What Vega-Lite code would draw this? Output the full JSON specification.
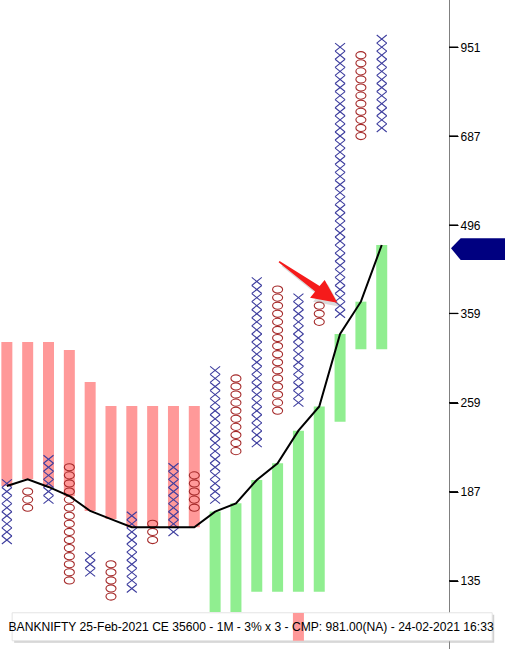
{
  "$schema": "https://vega.github.io/schema/vega-lite/v6.json",
  "width": 449,
  "height": 649,
  "autosize": {"type": "none"},
  "padding": {"left": 0, "top": 0, "right": 56, "bottom": 0},
  "background": "white",
  "config": {"view": {"stroke": null}, "font": "Liberation Sans"},
  "resolve": {"axis": {"x": "independent", "y": "independent"}},
  "datasets": {
    "bars": [
      {"c": 0, "hi": 323.4, "lo": 191.0, "side": "down"},
      {"c": 1, "hi": 323.4, "lo": 195.7, "side": "down"},
      {"c": 2, "hi": 323.4, "lo": 190.3, "side": "down"},
      {"c": 3, "hi": 314.1, "lo": 184.1, "side": "down"},
      {"c": 4, "hi": 279.4, "lo": 174.3, "side": "down"},
      {"c": 5, "hi": 255.9, "lo": 169.2, "side": "down"},
      {"c": 6, "hi": 255.9, "lo": 164.2, "side": "down"},
      {"c": 7, "hi": 255.9, "lo": 164.2, "side": "down"},
      {"c": 8, "hi": 255.9, "lo": 164.2, "side": "down"},
      {"c": 9, "hi": 255.9, "lo": 164.2, "side": "down"},
      {"c": 10, "hi": 173.9, "lo": 120.4, "side": "up"},
      {"c": 11, "hi": 179.2, "lo": 120.4, "side": "up"},
      {"c": 12, "hi": 195.2, "lo": 129.7, "side": "up"},
      {"c": 13, "hi": 207.5, "lo": 129.7, "side": "up"},
      {"c": 14, "hi": 233.8, "lo": 129.7, "side": "up"},
      {"c": 15, "hi": 255.4, "lo": 129.7, "side": "up"},
      {"c": 16, "hi": 333.0, "lo": 241.6, "side": "up"},
      {"c": 17, "hi": 374.8, "lo": 314.9, "side": "up"},
      {"c": 18, "hi": 461.1, "lo": 314.9, "side": "up"}
    ],
    "line": [
      {"c": 0, "v": 191.0}, {"c": 1, "v": 195.7}, {"c": 2, "v": 190.3}, {"c": 3, "v": 184.1},
      {"c": 4, "v": 174.3}, {"c": 5, "v": 169.2}, {"c": 6, "v": 164.2}, {"c": 7, "v": 164.2},
      {"c": 8, "v": 164.2}, {"c": 9, "v": 164.2}, {"c": 10, "v": 173.9}, {"c": 11, "v": 179.2},
      {"c": 12, "v": 195.2}, {"c": 13, "v": 207.5}, {"c": 14, "v": 233.8}, {"c": 15, "v": 255.4},
      {"c": 16, "v": 333.0}, {"c": 17, "v": 374.8}, {"c": 18, "v": 461.1}
    ],
    "ticks": [{"v": 135}, {"v": 187}, {"v": 259}, {"v": 359}, {"v": 496}, {"v": 687}, {"v": 951}],
    "pf": [
      {"c":0,"t":"X","p":156.72},{"c":0,"t":"X","p":161.42},{"c":0,"t":"X","p":166.27},{"c":0,"t":"X","p":171.25},{"c":0,"t":"X","p":176.39},{"c":0,"t":"X","p":181.68},{"c":0,"t":"X","p":187.13},{"c":0,"t":"X","p":192.75},
      {"c":1,"t":"O","p":176.39},{"c":1,"t":"O","p":181.68},{"c":1,"t":"O","p":187.13},
      {"c":2,"t":"X","p":181.68},{"c":2,"t":"X","p":187.13},{"c":2,"t":"X","p":192.75},{"c":2,"t":"X","p":198.53},{"c":2,"t":"X","p":204.49},{"c":2,"t":"X","p":210.62},
      {"c":3,"t":"O","p":135.19},{"c":3,"t":"O","p":139.25},{"c":3,"t":"O","p":143.42},{"c":3,"t":"O","p":147.72},{"c":3,"t":"O","p":152.16},{"c":3,"t":"O","p":156.72},{"c":3,"t":"O","p":161.42},{"c":3,"t":"O","p":166.27},{"c":3,"t":"O","p":171.25},{"c":3,"t":"O","p":176.39},{"c":3,"t":"O","p":181.68},{"c":3,"t":"O","p":187.13},{"c":3,"t":"O","p":192.75},{"c":3,"t":"O","p":198.53},{"c":3,"t":"O","p":204.49},
      {"c":4,"t":"X","p":139.25},{"c":4,"t":"X","p":143.42},{"c":4,"t":"X","p":147.72},
      {"c":5,"t":"O","p":127.43},{"c":5,"t":"O","p":131.25},{"c":5,"t":"O","p":135.19},{"c":5,"t":"O","p":139.25},{"c":5,"t":"O","p":143.42},
      {"c":6,"t":"X","p":131.25},{"c":6,"t":"X","p":135.19},{"c":6,"t":"X","p":139.25},{"c":6,"t":"X","p":143.42},{"c":6,"t":"X","p":147.72},{"c":6,"t":"X","p":152.16},{"c":6,"t":"X","p":156.72},{"c":6,"t":"X","p":161.42},{"c":6,"t":"X","p":166.27},{"c":6,"t":"X","p":171.25},
      {"c":7,"t":"O","p":156.72},{"c":7,"t":"O","p":161.42},{"c":7,"t":"O","p":166.27},
      {"c":8,"t":"X","p":161.42},{"c":8,"t":"X","p":166.27},{"c":8,"t":"X","p":171.25},{"c":8,"t":"X","p":176.39},{"c":8,"t":"X","p":181.68},{"c":8,"t":"X","p":187.13},{"c":8,"t":"X","p":192.75},{"c":8,"t":"X","p":198.53},{"c":8,"t":"X","p":204.49},
      {"c":9,"t":"O","p":176.39},{"c":9,"t":"O","p":181.68},{"c":9,"t":"O","p":187.13},{"c":9,"t":"O","p":192.75},{"c":9,"t":"O","p":198.53},
      {"c":10,"t":"X","p":181.68},{"c":10,"t":"X","p":187.13},{"c":10,"t":"X","p":192.75},{"c":10,"t":"X","p":198.53},{"c":10,"t":"X","p":204.49},{"c":10,"t":"X","p":210.62},{"c":10,"t":"X","p":216.94},{"c":10,"t":"X","p":223.45},{"c":10,"t":"X","p":230.15},{"c":10,"t":"X","p":237.06},{"c":10,"t":"X","p":244.17},{"c":10,"t":"X","p":251.49},{"c":10,"t":"X","p":259.04},{"c":10,"t":"X","p":266.81},{"c":10,"t":"X","p":274.81},{"c":10,"t":"X","p":283.06},{"c":10,"t":"X","p":291.55},
      {"c":11,"t":"O","p":216.94},{"c":11,"t":"O","p":223.45},{"c":11,"t":"O","p":230.15},{"c":11,"t":"O","p":237.06},{"c":11,"t":"O","p":244.17},{"c":11,"t":"O","p":251.49},{"c":11,"t":"O","p":259.04},{"c":11,"t":"O","p":266.81},{"c":11,"t":"O","p":274.81},{"c":11,"t":"O","p":283.06},
      {"c":12,"t":"X","p":223.45},{"c":12,"t":"X","p":230.15},{"c":12,"t":"X","p":237.06},{"c":12,"t":"X","p":244.17},{"c":12,"t":"X","p":251.49},{"c":12,"t":"X","p":259.04},{"c":12,"t":"X","p":266.81},{"c":12,"t":"X","p":274.81},{"c":12,"t":"X","p":283.06},{"c":12,"t":"X","p":291.55},{"c":12,"t":"X","p":300.29},{"c":12,"t":"X","p":309.30},{"c":12,"t":"X","p":318.58},{"c":12,"t":"X","p":328.14},{"c":12,"t":"X","p":337.98},{"c":12,"t":"X","p":348.12},{"c":12,"t":"X","p":358.57},{"c":12,"t":"X","p":369.33},{"c":12,"t":"X","p":380.41},{"c":12,"t":"X","p":391.82},{"c":12,"t":"X","p":403.57},
      {"c":13,"t":"O","p":251.49},{"c":13,"t":"O","p":259.04},{"c":13,"t":"O","p":266.81},{"c":13,"t":"O","p":274.81},{"c":13,"t":"O","p":283.06},{"c":13,"t":"O","p":291.55},{"c":13,"t":"O","p":300.29},{"c":13,"t":"O","p":309.30},{"c":13,"t":"O","p":318.58},{"c":13,"t":"O","p":328.14},{"c":13,"t":"O","p":337.98},{"c":13,"t":"O","p":348.12},{"c":13,"t":"O","p":358.57},{"c":13,"t":"O","p":369.33},{"c":13,"t":"O","p":380.41},{"c":13,"t":"O","p":391.82},
      {"c":14,"t":"X","p":259.04},{"c":14,"t":"X","p":266.81},{"c":14,"t":"X","p":274.81},{"c":14,"t":"X","p":283.06},{"c":14,"t":"X","p":291.55},{"c":14,"t":"X","p":300.29},{"c":14,"t":"X","p":309.30},{"c":14,"t":"X","p":318.58},{"c":14,"t":"X","p":328.14},{"c":14,"t":"X","p":337.98},{"c":14,"t":"X","p":348.12},{"c":14,"t":"X","p":358.57},{"c":14,"t":"X","p":369.33},{"c":14,"t":"X","p":380.41},
      {"c":15,"t":"O","p":348.12},{"c":15,"t":"O","p":358.57},{"c":15,"t":"O","p":369.33},
      {"c":16,"t":"X","p":358.57},{"c":16,"t":"X","p":369.33},{"c":16,"t":"X","p":380.41},{"c":16,"t":"X","p":391.82},{"c":16,"t":"X","p":403.57},{"c":16,"t":"X","p":415.68},{"c":16,"t":"X","p":428.15},{"c":16,"t":"X","p":440.99},{"c":16,"t":"X","p":454.22},{"c":16,"t":"X","p":467.85},{"c":16,"t":"X","p":481.89},{"c":16,"t":"X","p":496.34},{"c":16,"t":"X","p":511.23},{"c":16,"t":"X","p":526.57},{"c":16,"t":"X","p":542.37},{"c":16,"t":"X","p":558.64},{"c":16,"t":"X","p":575.40},{"c":16,"t":"X","p":592.66},{"c":16,"t":"X","p":610.44},{"c":16,"t":"X","p":628.75},{"c":16,"t":"X","p":647.61},{"c":16,"t":"X","p":667.04},{"c":16,"t":"X","p":687.05},{"c":16,"t":"X","p":707.66},{"c":16,"t":"X","p":728.89},{"c":16,"t":"X","p":750.76},{"c":16,"t":"X","p":773.28},{"c":16,"t":"X","p":796.48},{"c":16,"t":"X","p":820.38},{"c":16,"t":"X","p":844.99},{"c":16,"t":"X","p":870.34},{"c":16,"t":"X","p":896.45},{"c":16,"t":"X","p":923.34},{"c":16,"t":"X","p":951.04},
      {"c":17,"t":"O","p":687.05},{"c":17,"t":"O","p":707.66},{"c":17,"t":"O","p":728.89},{"c":17,"t":"O","p":750.76},{"c":17,"t":"O","p":773.28},{"c":17,"t":"O","p":796.48},{"c":17,"t":"O","p":820.38},{"c":17,"t":"O","p":844.99},{"c":17,"t":"O","p":870.34},{"c":17,"t":"O","p":896.45},{"c":17,"t":"O","p":923.34},
      {"c":18,"t":"X","p":707.66},{"c":18,"t":"X","p":728.89},{"c":18,"t":"X","p":750.76},{"c":18,"t":"X","p":773.28},{"c":18,"t":"X","p":796.48},{"c":18,"t":"X","p":820.38},{"c":18,"t":"X","p":844.99},{"c":18,"t":"X","p":870.34},{"c":18,"t":"X","p":896.45},{"c":18,"t":"X","p":923.34},{"c":18,"t":"X","p":951.04},{"c":18,"t":"X","p":979.57}
    ]
  },
  "layer": [
    {
      "data": {"name": "bars"},
      "mark": {"type": "bar", "size": 11, "clip": true},
      "encoding": {
        "x": {"field": "c", "type": "quantitative", "scale": {"domain": [-0.089, 20.99], "nice": false, "zero": false}, "axis": null},
        "y": {"field": "hi", "type": "quantitative", "scale": {"type": "log", "domain": [105.19, 1130.0], "nice": false},
          "axis": {"orient": "right", "values": [135, 187, 259, 359, 496, 687, 951], "format": "d", "title": null, "grid": false,
            "domain": true, "domainColor": "#000000", "domainOpacity": 1, "domainDash": [1, 1], "domainWidth": 1,
            "ticks": true, "tickColor": "#000000", "tickOpacity": 1, "tickSize": 9, "tickWidth": 1,
            "labelFont": "Liberation Sans", "labelFontSize": 12, "labelColor": "#000000", "labelPadding": 2, "labelOverlap": false}},
        "y2": {"field": "lo"},
        "fill": {"field": "side", "type": "nominal", "scale": {"domain": ["down", "up"], "range": ["#ff9999", "#90ee90"]}, "legend": null}
      }
    },
    {
      "data": {"name": "pf"},
      "mark": {"type": "point", "filled": false, "size": 121, "strokeWidth": 1.1, "opacity": 1, "clip": true},
      "encoding": {
        "x": {"field": "c", "type": "quantitative", "axis": null},
        "y": {"field": "p", "type": "quantitative", "axis": null},
        "shape": {"field": "t", "type": "nominal", "scale": {"domain": ["X", "O"], "range": ["M-0.91,-0.73L0.91,0.73M-0.91,0.73L0.91,-0.73", "M-0.91,0A0.91,0.65,0,1,0,0.91,0A0.91,0.65,0,1,0,-0.91,0Z"]}, "legend": null},
        "stroke": {"field": "t", "type": "nominal", "scale": {"domain": ["X", "O"], "range": ["#3d3d9e", "#a52a2a"]}, "legend": null}
      }
    },
    {
      "data": {"name": "line"},
      "mark": {"type": "line", "color": "#000000", "strokeWidth": 2, "clip": true},
      "encoding": {
        "x": {"field": "c", "type": "quantitative", "axis": null},
        "y": {"field": "v", "type": "quantitative", "axis": null}
      }
    },
    {
      "data": {"values": [{}]},
      "mark": {"type": "point", "filled": true, "size": 400, "color": "#888888", "opacity": 0.3, "strokeWidth": 0, "xOffset": 3, "yOffset": 4,
        "shape": "M-6.05,-4.46L-2.05,-1.96L-1.54,-2.57L-0.27,-0.3L-3,-0.8L-2.49,-1.41L-6.15,-4.34Z"},
      "encoding": {
        "x": {"datum": 16, "type": "quantitative", "axis": null},
        "y": {"datum": 369.33, "type": "quantitative", "axis": null}
      }
    },
    {
      "data": {"values": [{}]},
      "mark": {"type": "point", "filled": true, "size": 400, "color": "#f51b1b", "opacity": 1, "strokeWidth": 0,
        "shape": "M-6.05,-4.46L-2.05,-1.96L-1.54,-2.57L-0.27,-0.3L-3,-0.8L-2.49,-1.41L-6.15,-4.34Z"},
      "encoding": {
        "x": {"datum": 16, "type": "quantitative", "axis": null},
        "y": {"datum": 369.33, "type": "quantitative", "axis": null}
      }
    },
    {
      "data": {"values": [{}]},
      "mark": {"type": "rect", "color": "#9a9a9a", "opacity": 0.45, "xOffset": 2, "x2Offset": 2, "yOffset": 2, "y2Offset": 2, "clip": false},
      "encoding": {
        "x": {"datum": 0.254, "type": "quantitative", "axis": null},
        "x2": {"datum": 23.305},
        "y": {"datum": 120.1, "type": "quantitative", "axis": null},
        "y2": {"datum": 108.4}
      }
    },
    {
      "data": {"values": [{}]},
      "mark": {"type": "rect", "color": "#ffffff", "stroke": "#e4e4e4", "strokeWidth": 1, "clip": false},
      "encoding": {
        "x": {"datum": 0.254, "type": "quantitative", "axis": null},
        "x2": {"datum": 23.305},
        "y": {"datum": 120.1, "type": "quantitative", "axis": null},
        "y2": {"datum": 108.4}
      }
    },
    {
      "data": {"values": [{"c": 14, "hi": 120.0, "lo": 108.4}]},
      "mark": {"type": "bar", "size": 11, "color": "#ff9999", "clip": true},
      "encoding": {
        "x": {"field": "c", "type": "quantitative", "axis": null},
        "y": {"field": "hi", "type": "quantitative", "axis": null},
        "y2": {"field": "lo"}
      }
    },
    {
      "data": {"values": [{"label": "BANKNIFTY 25-Feb-2021 CE 35600 - 1M - 3% x 3 - CMP: 981.00(NA) - 24-02-2021 16:33"}]},
      "mark": {"type": "text", "align": "left", "baseline": "middle", "font": "Liberation Sans", "fontSize": 12.1, "color": "#000000", "clip": false},
      "encoding": {
        "x": {"datum": 0.08, "type": "quantitative", "axis": null},
        "y": {"datum": 114.1, "type": "quantitative", "axis": null},
        "text": {"field": "label"}
      }
    },
    {
      "data": {"name": "ticks"},
      "mark": {"type": "rule", "color": "#000000", "strokeWidth": 1.3, "opacity": 1, "x2Offset": 9, "clip": false},
      "encoding": {
        "x": {"value": "width"},
        "x2": {"value": "width"},
        "y": {"field": "v", "type": "quantitative", "axis": null}
      }
    },
    {
      "data": {"values": [{"cmp": 455.6}]},
      "mark": {"type": "point", "filled": true, "size": 400, "color": "#000080", "opacity": 1, "strokeWidth": 0, "clip": false,
        "shape": "M0.2,0L1.17,-1L5.7,-1L5.7,1.17L1.17,1.17Z"},
      "encoding": {
        "x": {"value": "width"},
        "y": {"field": "cmp", "type": "quantitative", "axis": null}
      }
    }
  ]
}
